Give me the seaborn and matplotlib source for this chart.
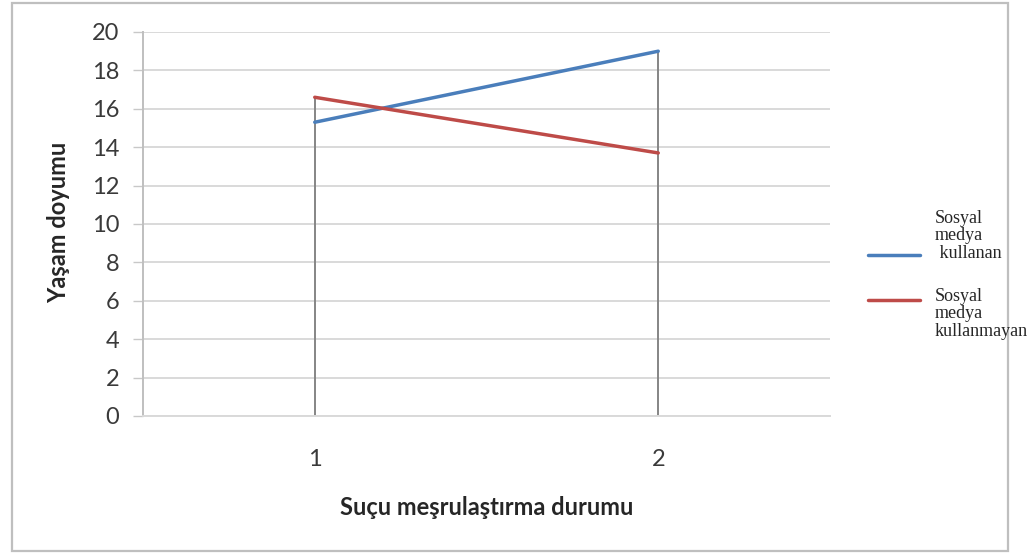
import numpy as np
import pandas as pd
import matplotlib
matplotlib.use("Agg")
import matplotlib.pyplot as plt
import seaborn as sns
from matplotlib.lines import Line2D
from matplotlib.patches import Rectangle

# ---- data ----
categories = [1, 2]
series_names = ["Sosyal\nmedya\n kullanan", "Sosyal\nmedya\nkullanmayan"]
kullanan = [15.3, 19.0]
kullanmayan = [16.6, 13.7]
y_ticks = [0, 2, 4, 6, 8, 10, 12, 14, 16, 18, 20]
x_label = "Suçu meşrulaştırma durumu"
y_label = "Yaşam doyumu"
colors = ["#4a7ebb", "#be4b48"]

df = pd.DataFrame({
    "x": categories * 2,
    "y": kullanan + kullanmayan,
    "series": [series_names[0]] * len(categories) + [series_names[1]] * len(categories),
})

sns.set_style("white")
plt.rcParams["font.family"] = ["Lato", "DejaVu Sans"]

W, H = 1030, 556
fig = plt.figure(figsize=(W / 100, H / 100), dpi=100)
ax = fig.add_axes([143 / W, 1 - 416 / H, (830 - 143) / W, (416 - 32) / H])

# drop lines
tops = np.maximum(np.array(kullanan), np.array(kullanmayan))
ax.vlines(categories, 0, tops, color="#858585", lw=1.4, zorder=2)

sns.lineplot(data=df, x="x", y="y", hue="series", palette=colors,
             linewidth=2.5, legend=False, ax=ax, zorder=3)

ax.set_xlim(0.5, 2.5)
ax.set_ylim(0, 20)
ax.set_yticks(y_ticks)
ax.set_xticks(categories)
ax.set_xticklabels([str(c) for c in categories])
ax.grid(axis="y", color="#d9d9d9", lw=1.4, zorder=0)
ax.grid(axis="x", visible=False)
for s in ["top", "right"]:
    ax.spines[s].set_visible(False)
ax.spines["left"].set_color("#bfbfbf")
ax.spines["left"].set_linewidth(1.4)
ax.spines["bottom"].set_color("#d9d9d9")
ax.spines["bottom"].set_linewidth(1.4)
ax.tick_params(axis="y", length=7.2, width=1.0, color="#c8c8c8", pad=10,
               labelsize=17, labelcolor="#3a3a3a", left=True, direction="out")
ax.tick_params(axis="x", length=0, pad=24, labelsize=17, labelcolor="#3a3a3a")

ax.set_xlabel(x_label, fontsize=17, fontweight="bold", color="#262626")
ax.set_ylabel(y_label, fontsize=17, fontweight="bold", color="#262626")
ax.xaxis.set_label_coords(0.5, -(496 - 416) / 384)
ax.yaxis.set_label_coords(-(143 - 70) / 687, 0.503)

# legend (manual, Excel-like placement)
def fx(px):
    return px / W

def fy(py):
    return 1 - py / H

fig.add_artist(Line2D([fx(868), fx(920)], [fy(255), fy(255)], color=colors[0], lw=2.5))
fig.add_artist(Line2D([fx(868), fx(920)], [fy(300), fy(300)], color=colors[1], lw=2.5))
fig.text(fx(935), fy(210), series_names[0], family=["Liberation Serif", "DejaVu Serif"],
         fontsize=13, va="top", ha="left", linespacing=1.03, color="#262626")
fig.text(fx(935), fy(288), series_names[1], family=["Liberation Serif", "DejaVu Serif"],
         fontsize=13, va="top", ha="left", linespacing=1.03, color="#262626")

# outer chart border
fig.add_artist(Rectangle((fx(12), fy(551)), (1008 - 12) / W, (551 - 3) / H,
                         transform=fig.transFigure, fill=False,
                         edgecolor="#bfbfbf", lw=1.6))

fig.savefig("out.png", dpi=100)
